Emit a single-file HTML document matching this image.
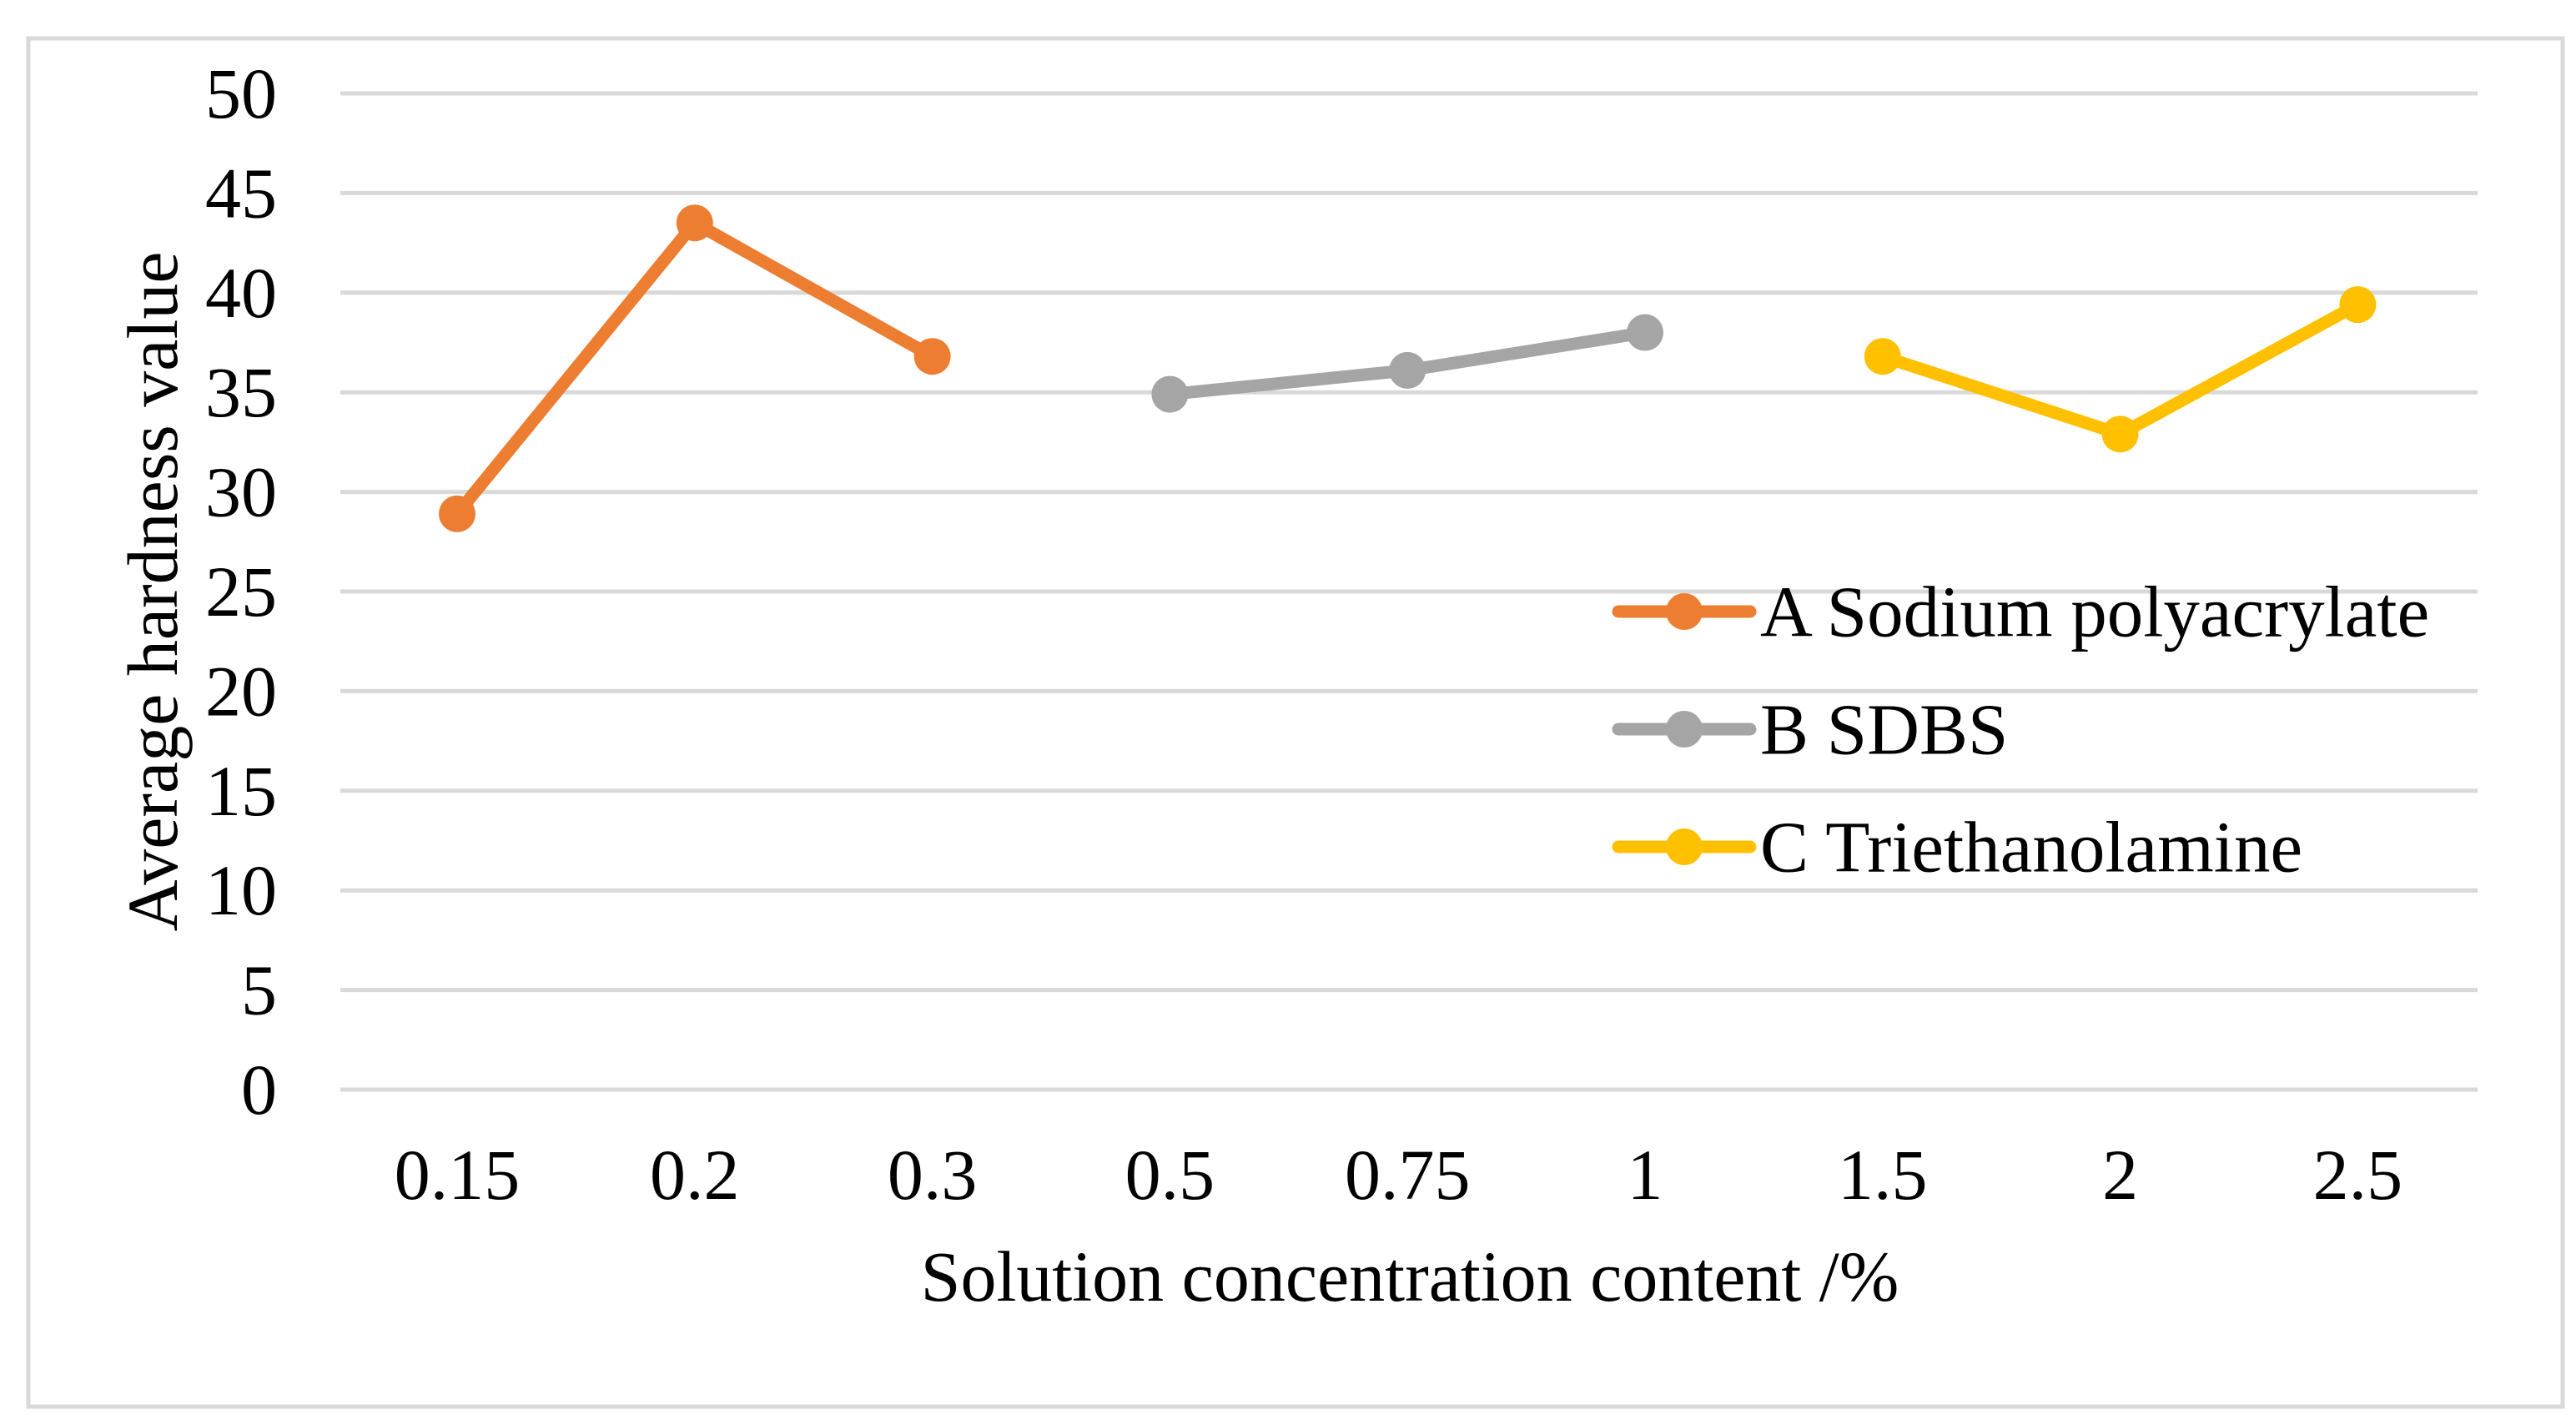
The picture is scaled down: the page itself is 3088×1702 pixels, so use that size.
<!DOCTYPE html>
<html><head><meta charset="utf-8"><style>
html,body{margin:0;padding:0;background:#fff;}
svg{display:block;font-family:"Liberation Serif",serif;}
</style></head><body>
<svg id="chart" width="3088" height="1702" viewBox="0 0 3088 1702" xmlns="http://www.w3.org/2000/svg">
<rect x="34" y="46" width="3038" height="1640" fill="#fff" stroke="#d9d9d9" stroke-width="5"/>
<g id="grid"></g><g id="series"></g><g id="labels"></g><g id="legend"></g>
<text x="0" y="0" transform="translate(183,709) rotate(-90)" font-size="86" text-anchor="middle" dominant-baseline="central">Average hardness value</text>
<text x="1690" y="1530" font-size="86" text-anchor="middle" dominant-baseline="central">Solution concentration content /%</text>
</svg>
<script>
const categories = ["0.15","0.2","0.3","0.5","0.75","1","1.5","2","2.5"];
const seriesNames = ["A Sodium polyacrylate","B SDBS","C Triethanolamine"];
const seriesA = [28.9, 43.5, 36.8];
const seriesB = [34.9, 36.1, 38.0];
const seriesC = [36.8, 32.9, 39.4];
const seriesStart = [0, 3, 6];
const yTicks = [0,5,10,15,20,25,30,35,40,45,50];
const colors = ["#ed7d31","#a5a5a5","#ffc000"];
const NS="http://www.w3.org/2000/svg";
const plotL=408, plotR=2970, yTop=112, yBot=1306, x0=548, step=284.8;
const xs = i => x0 + i*step;
const ys = v => yBot - (v/50)*(yBot-yTop);
function mk(tag, attrs, parent){const e=document.createElementNS(NS,tag);for(const k in attrs)e.setAttribute(k,attrs[k]);parent.appendChild(e);return e;}
const grid=document.getElementById('grid'), labels=document.getElementById('labels'), ser=document.getElementById('series'), leg=document.getElementById('legend');
yTicks.forEach(t=>{
  const l=mk('line',{x1:plotL,x2:plotR,y1:ys(t),y2:ys(t),stroke:'#d9d9d9','stroke-width':5},grid);
  
  
  const tx=mk('text',{x:332,y:ys(t),'font-size':86,'text-anchor':'end','dominant-baseline':'central'},labels);
  tx.textContent=t;
  
  
});
categories.forEach((c,i)=>{
  const tx=mk('text',{x:xs(i),y:1408,'font-size':86,'text-anchor':'middle','dominant-baseline':'central'},labels);
  tx.textContent=c;
  
  
});
[seriesA,seriesB,seriesC].forEach((vals,s)=>{
  const g=mk('g',{},ser);
  
  
  const pts=vals.map((v,i)=>xs(seriesStart[s]+i)+','+ys(v)).join(' ');
  const pl=mk('polyline',{points:pts,fill:'none',stroke:colors[s],'stroke-width':15,'stroke-linejoin':'round'},g);
  
  
  vals.forEach((v,i)=>{
    const c=mk('circle',{cx:xs(seriesStart[s]+i),cy:ys(v),r:22,fill:colors[s]},g);
    
    
  });
  const ly=733+s*141;
  const lg=mk('g',{},leg);
  
  
  mk('line',{x1:1940,x2:2098,y1:ly,y2:ly,stroke:colors[s],'stroke-width':15,'stroke-linecap':'round'},lg);
  mk('circle',{cx:2019,cy:ly,r:22,fill:colors[s]},lg);
  const t=mk('text',{x:2110,y:ly,'font-size':87,'dominant-baseline':'central'},lg);
  t.textContent=seriesNames[s];
});
</script>
</body></html>
